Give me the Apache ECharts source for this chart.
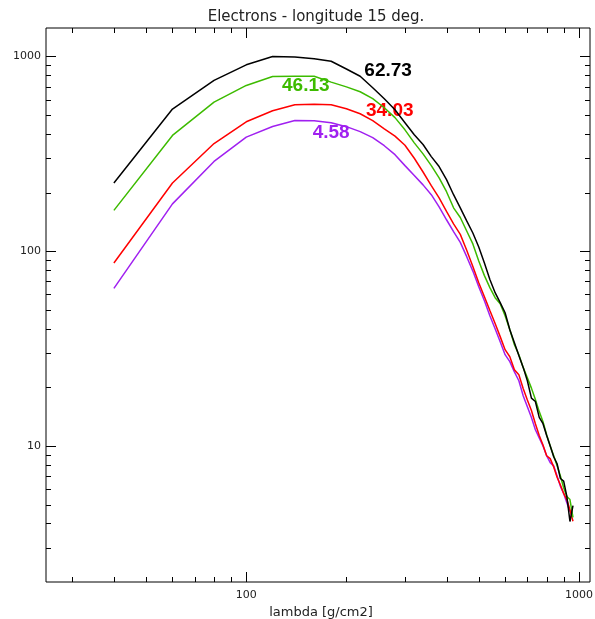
<!DOCTYPE html>
<html>
<head>
<meta charset="utf-8">
<script src="https://cdn.jsdelivr.net/npm/echarts@6/dist/echarts.min.js"></script>
<style>
html,body{margin:0;padding:0;background:#fff;}
#chart{width:595px;height:619px;}
</style>
</head>
<body>
<div id="chart"></div>
<script>
// ---- data ----
const lambda = [40,60,80,100,120,140,160,180,200,220,240,260,280,300,320,340,360,380,400,420,440,460,480,500,520,540,560,580,600,620,640,660,680,700,720,740,760,780,800,820,840,860,880,900,920,940,960];

const curveBlack = [224,537,753,906,1000,993,973,945,862,791,691,607,532,457,396,353,306,272,233,195,167,143,124,105,87,71.5,61.2,54.4,48.3,39.5,33.9,29.1,25.3,21.6,17.6,16.9,14.0,13.0,11.3,10.0,8.8,8.1,6.8,6.6,5.5,4.09,4.94];
const curveGreen = [162,393,583,710,789,792,791,738,698,659,607,545,485,420,360,316,275,238,202,167,149,127,109,89,74.9,65.0,57.7,53.7,46.6,39.5,33.1,29.4,25.3,22.4,19.8,17.3,15.0,13.3,11.4,10.0,8.9,7.9,7.0,6.1,5.5,5.3,4.3];
const curveRed   = [86.9,224,357,462,526,565,569,565,539,508,468,425,390,350,300,255,217,188,160,138,122,101,83.5,68.9,58.4,49.6,42.5,36.4,31.2,28.7,24.6,23.2,19.7,17.2,15.2,13.0,11.3,10.1,8.9,8.6,7.8,6.9,6.3,5.7,5.3,4.7,4.1];
const curvePurple= [64.4,175,289,385,437,469,468,457,436,411,383,348,313,275,245,219,195,169,145,126,111,93.7,79,65.7,55.7,46.6,40.0,34.3,29.4,27.1,24.0,21.6,18.1,15.9,14.0,12.1,11.0,10.0,8.9,8.2,7.9,7.0,6.2,5.7,5.1,4.6];

const curveNames  = ['62.73','46.13','34.03','4.58'];
const labelLambda = [267,151,270,180];
const labelValue  = [840,707,524,408];

const xMajorTicks = [100,1000];
const xMinorTicks = [30,40,50,60,70,80,90,200,300,400,500,600,700,800,900];
const yMajorTicks = [10,100,1000];
const yMinorTicks = [3,4,5,6,7,8,9,20,30,40,50,60,70,80,90,200,300,400,500,600,700,800,900];

const titleText = 'Electrons - longitude 15 deg.';
const xTitle = 'lambda [g/cm2]';

// ---- chart ----
const colors = ['#000000','#3dbb00','#ff0000','#a020f0'];
const curves = [curveBlack, curveGreen, curveRed, curvePurple];
const FONT = 'DejaVu Sans';

function pairs(vals){ return vals.map((v,i)=>[lambda[i], v]); }
function isPow10(v){ const l = Math.log10(v); return Math.abs(l - Math.round(l)) < 1e-6; }

const lineSeries = curves.map((vals, k) => ({
  type: 'line',
  name: curveNames[k],
  data: pairs(vals),
  showSymbol: false,
  symbol: 'none',
  lineStyle: { color: colors[k], width: 1.5 },
  z: 10 - k,
  markPoint: {
    symbol: 'circle',
    symbolSize: 1,
    itemStyle: { color: 'rgba(0,0,0,0)' },
    label: {
      show: true, position: 'inside', formatter: curveNames[k],
      color: colors[k], fontSize: 19, fontWeight: 'bold', fontFamily: 'Liberation Sans'
    },
    data: [{ coord: [labelLambda[k], labelValue[k]] }]
  }
}));

const xTickData = xMajorTicks.map(v=>[v,10,10]).concat(xMinorTicks.map(v=>[v,10,5]));
const yTickData = yMajorTicks.map(v=>[100,v,10]).concat(yMinorTicks.map(v=>[100,v,5]));

function snap(p){ return Math.round(p) + 0.5; }

const tickStyle = { stroke: '#000', lineWidth: 1 };

const xTickSeries = {
  type: 'custom', coordinateSystem: 'cartesian2d', data: xTickData, silent: true,
  encode: { x: 0, y: 1 }, clip: false, z: 20,
  renderItem: function(params, api){
    const p = api.coord([api.value(0), api.value(1)]);
    const cs = params.coordSys; const len = api.value(2);
    const x = snap(p[0]); const yb = cs.y + cs.height; const yt = cs.y;
    return { type: 'group', children: [
      { type: 'line', shape: { x1: x, y1: yb, x2: x, y2: yb - len }, style: tickStyle },
      { type: 'line', shape: { x1: x, y1: yt, x2: x, y2: yt + len }, style: tickStyle }
    ]};
  }
};
const yTickSeries = {
  type: 'custom', coordinateSystem: 'cartesian2d', data: yTickData, silent: true,
  encode: { x: 0, y: 1 }, clip: false, z: 20,
  renderItem: function(params, api){
    const p = api.coord([api.value(0), api.value(1)]);
    const cs = params.coordSys; const len = api.value(2);
    const y = snap(p[1]); const xl = cs.x; const xr = cs.x + cs.width;
    return { type: 'group', children: [
      { type: 'line', shape: { x1: xl, y1: y, x2: xl + len, y2: y }, style: tickStyle },
      { type: 'line', shape: { x1: xr, y1: y, x2: xr - len, y2: y }, style: tickStyle }
    ]};
  }
};

const chart = echarts.init(document.getElementById('chart'), null, { renderer: 'canvas' });
chart.setOption({
  animation: false,
  backgroundColor: '#ffffff',
  grid: { left: 46, right: 5, top: 28, bottom: 37, containLabel: false, outerBoundsMode: 'none',
          show: true, borderColor: '#000', borderWidth: 1, backgroundColor: 'transparent' },
  graphic: [{
    type: 'text', x: 316, y: 17,
    style: { text: titleText, fill: '#222', font: '15px "DejaVu Sans"', textAlign: 'center', textVerticalAlign: 'middle' }
  }],
  xAxis: {
    type: 'log', logBase: 10, min: 25, max: 1080,
    name: xTitle, nameLocation: 'middle', nameGap: 12,
    nameTextStyle: { fontFamily: FONT, fontSize: 13, color: '#222', padding: [0, 0, 0, 6] },
    axisLine: { show: false }, axisTick: { show: false }, splitLine: { show: false }, minorTick: { show: false },
    axisLabel: { fontFamily: FONT, fontSize: 11, color: '#222', margin: 8, showMinLabel: false, showMaxLabel: false,
      formatter: v => isPow10(v) ? String(Math.round(v)) : '' }
  },
  yAxis: {
    type: 'log', logBase: 10, min: 2, max: 1400,
    axisLine: { show: false }, axisTick: { show: false }, splitLine: { show: false }, minorTick: { show: false },
    axisLabel: { fontFamily: FONT, fontSize: 11, color: '#222', margin: 5, showMinLabel: false, showMaxLabel: false,
      formatter: v => isPow10(v) ? String(Math.round(v)) : '' }
  },
  series: lineSeries.slice().reverse().concat([xTickSeries, yTickSeries])
});
</script>
</body>
</html>
